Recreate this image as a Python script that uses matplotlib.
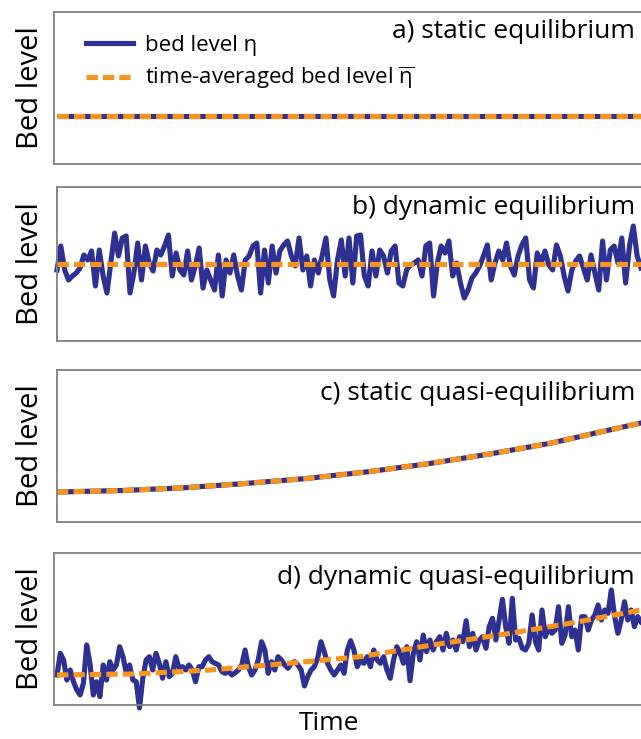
import numpy as np
import matplotlib
matplotlib.use("Agg")
import matplotlib.pyplot as plt
from matplotlib.lines import Line2D

plt.rcParams['font.family'] = ['Open Sans', 'DejaVu Sans']
plt.rcParams['mathtext.fontset'] = 'custom'
plt.rcParams['mathtext.rm'] = 'Open Sans'
plt.rcParams['mathtext.it'] = 'Open Sans'
plt.rcParams['mathtext.bf'] = 'Open Sans'

W, H = 641, 739
BLUE = '#2e3192'
ORANGE = '#f7941d'
FRAME = '#808080'

# ---- data (bed level in arbitrary units above the bottom of each panel) ----
static_level = 48.0

dynamic_mean = 75.0
dynamic_eta = [
    69, 93, 69, 59, 63, 66, 71, 84, 79, 88, 53, 89, 63, 46, 76, 106, 83, 101, 103, 46,
    66, 96, 59, 93, 76, 68, 89, 84, 93, 104, 63, 86, 69, 64, 88, 59, 73, 91, 51, 69,
    59, 49, 84, 43, 79, 66, 84, 63, 49, 79, 83, 93, 96, 46, 89, 56, 93, 66, 88, 94,
    98, 83, 73, 101, 69, 83, 53, 79, 66, 83, 101, 59, 43, 79, 99, 63, 101, 56, 103,
    104, 63, 53, 88, 63, 89, 83, 66, 88, 93, 56, 53, 69, 74, 76, 79, 63, 93, 96, 43,
    76, 93, 86, 98, 63, 76, 56, 41, 49, 61, 66, 73, 83, 94, 59, 76, 88, 79, 96,
    73, 64, 83, 94, 101, 59, 51, 86, 76, 88, 74, 69, 94, 83, 63, 48, 69, 78, 83, 71,
    59, 84, 66, 49, 98, 59, 89, 93, 76, 101, 56, 93, 113, 83, 71,
]

quasi_time = [0.0, 0.112, 0.217, 0.322, 0.427, 0.532, 0.637, 0.742, 0.847, 0.917, 1.0]
quasi_level = [30.0, 31.5, 34.2, 38.5, 43.5, 50.2, 58.4, 68.1, 79.0, 88.3, 99.0]

dq_trend_time = [0.0, 0.130, 0.262, 0.382, 0.519, 0.639, 0.776, 0.884, 1.0]
dq_trend_level = [30.0, 31.0, 35.0, 41.0, 48.3, 59.7, 71.7, 82.3, 95.0]
dq_eta = [
    30.0, 51.7, 45.0, 25.0, 35.0, 23.3, 15.0, 10.0, 21.7, 60.0, 41.7, 10.0, 23.3, 8.3, 40.0,
    25.0, 43.3, 35.0, 40.0, 58.3, 48.3, 31.7, 40.0, 25.0, 23.3, -3.0, 26.7, 45.0, 48.3, 35.0,
    51.7, 41.7, 26.7, 43.3, 28.3, 31.7, 48.3, 36.7, 38.3, 35.0, 40.0, 35.0, 23.3, 38.3, 38.3,
    45.0, 48.3, 43.3, 41.7, 40.0, 33.3, 31.7, 33.3, 30.0, 32.3, 35.0, 40.0, 55.0, 38.3, 30.0,
    35.0, 45.0, 63.3, 55.0, 31.7, 43.3, 35.0, 48.3, 45.0, 40.0, 36.7, 41.7, 43.3, 40.0, 35.0,
    19.0, 28.3, 35.0, 38.3, 46.7, 63.3, 53.3, 41.7, 35.0, 30.0, 35.0, 40.0, 31.7, 55.0, 64.3,
    55.0,
    38.3, 45.0, 41.7, 48.3, 38.3, 55.0, 45.0, 41.7, 48.3, 35.0, 26.7, 45.0, 58.3, 51.7, 41.7,
    58.3, 24.3, 51.7, 63.3, 45.0, 70.0, 53.3, 65.0, 55.0, 63.3, 68.3, 55.0, 71.7, 58.3, 65.0,
    55.0, 68.3, 63.3, 84.3, 58.3, 71.7, 55.0, 65.0, 68.3, 56.7, 78.3, 86.7, 65.0, 85.0, 105.7,
    78.3,
    61.7, 106.7, 65.0, 66.7, 56.7, 55.0, 61.7, 90.0, 63.3, 55.0, 95.0, 68.3, 76.7, 71.7, 75.0,
    98.3, 61.7, 70.0, 98.3, 68.3, 75.0, 55.0, 88.3, 88.3, 75.0, 85.0, 90.0, 100.0, 85.0, 95.0,
    91.7, 115.0, 88.3, 71.7, 85.0, 103.3, 85.0, 95.0, 78.3, 88.3, 83.3,
]

titles = ['a) static equilibrium', 'b) dynamic equilibrium',
          'c) static quasi-equilibrium', 'd) dynamic quasi-equilibrium']
legend_labels = ['bed level η', r'time-averaged bed level $\overline{\eta}$']

# ---- layout in pixels: (left, top, bottom, lower y-limit) of each panel ----
panels_px = [(54, 12, 164, 0), (57, 187, 341, -2), (57, 370, 522, 0), (54, 553, 705, 0)]
title_y_px = [31, 207, 393, 577]
X0, X1, XR = 57.0, 641.0, 652.0

fig = plt.figure(figsize=(W / 100, H / 100), dpi=100)
axes = []
for (l, t, b, y0) in panels_px:
    ax = fig.add_axes([l / W, 1 - b / H, (XR - l) / W, (b - t) / H])
    ax.set_xlim((l - X0) / (X1 - X0), (XR - X0) / (X1 - X0))
    ax.set_ylim(y0, y0 + b - t)
    ax.set_xticks([])
    ax.set_yticks([])
    for s in ax.spines.values():
        s.set_color(FRAME)
        s.set_linewidth(1.3)
    axes.append(ax)

for ax, (l, t, b, y0) in zip(axes, panels_px):
    fig.text(31 / W, 1 - (t + b) / 2 / H, 'Bed level', rotation=90,
             ha='center', va='center', fontsize=21)

dash = (0, (2.2, 1.0))
lw = 3.7

# a) static equilibrium
ax = axes[0]
ax.plot([0, 1], [static_level, static_level], color=BLUE, lw=lw, solid_capstyle='butt')
ax.plot([0, 1], [static_level, static_level], color=ORANGE, lw=lw, ls=dash)

# b) dynamic equilibrium
ax = axes[1]
tb = np.linspace(0, 1, len(dynamic_eta))
ax.plot(tb, dynamic_eta, color=BLUE, lw=lw, solid_joinstyle='round', clip_on=False)
ax.plot([0, 1], [dynamic_mean, dynamic_mean], color=ORANGE, lw=lw, ls=dash)

# c) static quasi-equilibrium
ax = axes[2]
ax.plot(quasi_time, quasi_level, color=BLUE, lw=lw)
ax.plot(quasi_time, quasi_level, color=ORANGE, lw=lw, ls=dash)

# d) dynamic quasi-equilibrium
ax = axes[3]
td = np.linspace(0, 1, len(dq_eta))
ax.plot(td, dq_eta, color=BLUE, lw=lw, solid_joinstyle='round', clip_on=False)
ax.plot(dq_trend_time, dq_trend_level, color=ORANGE, lw=lw, ls=dash)

for ty, title in zip(title_y_px, titles):
    fig.text(635 / W, 1 - ty / H, title, ha='right', va='center', fontsize=19)

handles = [Line2D([], [], color=BLUE, lw=lw),
           Line2D([], [], color=ORANGE, lw=lw, ls=dash)]
fig.legend(handles, legend_labels, loc='upper left',
           bbox_to_anchor=(86 / W, 1 - 35 / H), bbox_transform=fig.transFigure,
           frameon=False, fontsize=16, handlelength=2.1, handletextpad=0.55,
           labelspacing=0.4, borderpad=0, borderaxespad=0)

fig.text(329 / W, 1 - 730 / H, 'Time', ha='center', va='baseline', fontsize=19)

fig.savefig('out.png', dpi=100)
